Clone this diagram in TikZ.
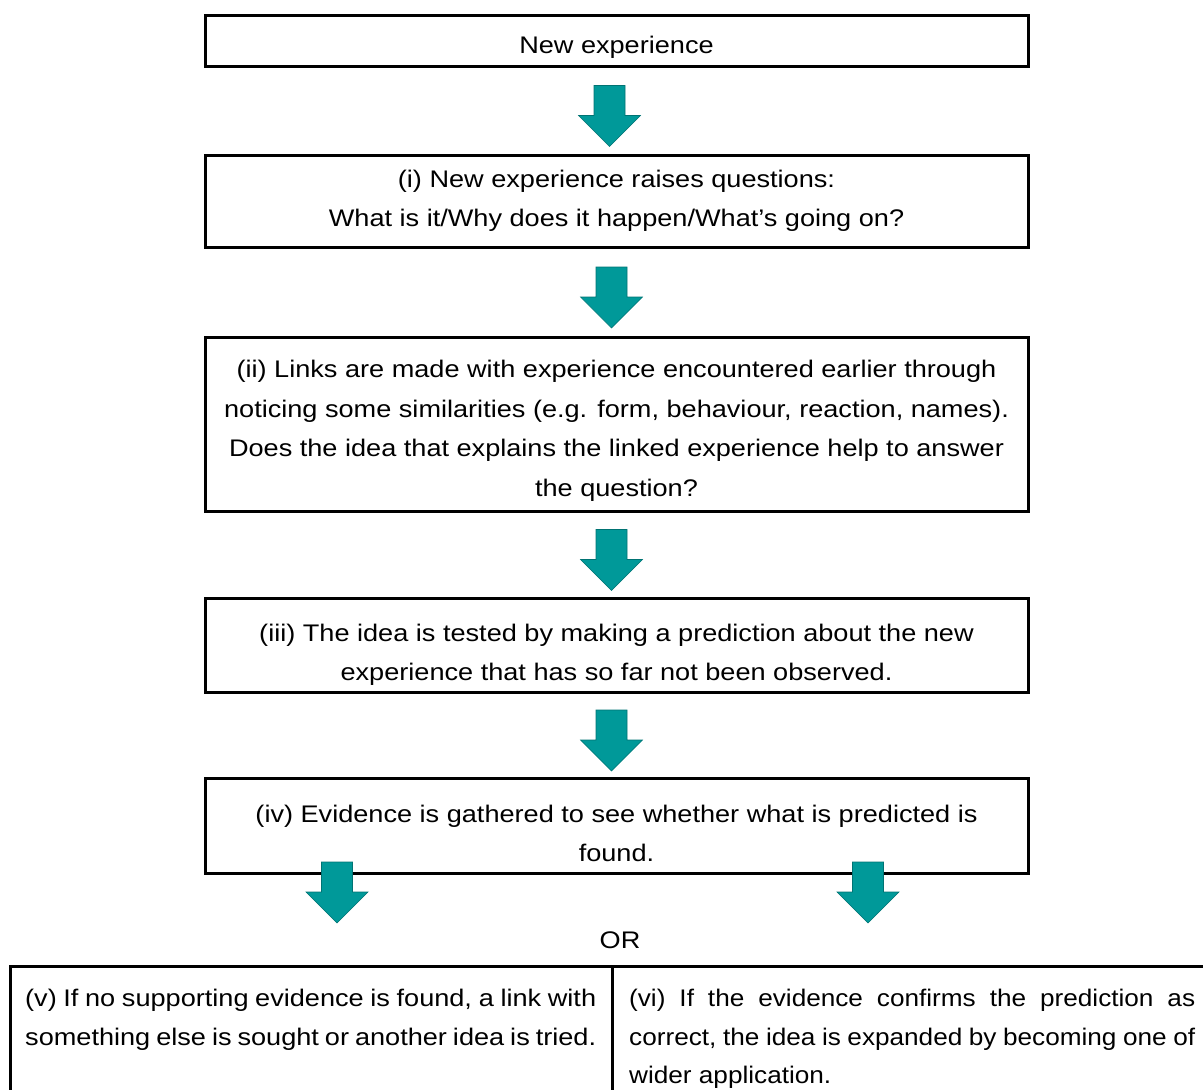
\documentclass[tikz,border=0pt]{standalone}
\usepackage{fontspec}
\setmainfont{Liberation Sans}[FakeStretch=1.13]
\newfontfamily\narrowfont{Liberation Sans}[FakeStretch=1.09]
\usetikzlibrary{positioning,calc}
\definecolor{arrowteal}{RGB}{0,153,153}
\newcommand\lowerby[1]{\rule{0pt}{#1pt}}
\tikzset{
  stagebox/.style={draw,line width=3pt,minimum width=823pt,align=center,
    inner sep=0pt,font=\fontsize{24}{39.5}\selectfont},
  celltext/.style={anchor=north west,align=justify,inner xsep=15pt,inner ysep=23pt,
    font=\fontsize{24}{38.5}\selectfont},
  downarrow/.pic={
    \filldraw[fill=arrowteal,draw=arrowteal!75!black,line width=0.6pt]
      (-15.5,-30) -- (15.5,-30) -- (15.5,0) -- (31,0) -- (0,31) -- (-31,0) -- (-15.5,0) -- cycle;
  }
}
\begin{document}
\begin{tikzpicture}[x=1pt,y=-1pt]
  \useasboundingbox (0,0) rectangle (1203,1090);
  % the five stages
  \node[stagebox,minimum height=51pt] (newexp) at (616.5,40.5) {\lowerby{31}New experience};
  \node[stagebox,minimum height=92pt] (questions) at (616.5,201)
    {(i) New experience raises questions:\\What is it/Why does it happen/What’s going on?};
  \node[stagebox,minimum height=174pt] (links) at (616.5,424)
    {\lowerby{31}(ii) Links are made with experience encountered earlier through\\
     noticing some similarities (e.g. form, behaviour, reaction, names).\\
     Does the idea that explains the linked experience help to answer\\
     the question?};
  \node[stagebox,minimum height=94pt] (tested) at (616.5,645)
    {\lowerby{37}(iii) The idea is tested by making a prediction about the new\\
     experience that has so far not been observed.};
  \node[stagebox,minimum height=95pt] (evidence) at (616.5,825.5)
    {\lowerby{33}(iv) Evidence is gathered to see whether what is predicted is\\found.};
  % arrows between stages
  \pic at ($(newexp.south)!0.5!(questions.north)+(-7,5)$) {downarrow};
  \pic at ($(questions.south)!0.5!(links.north)+(-5,5)$) {downarrow};
  \pic at ($(links.south)!0.5!(tested.north)+(-5,5)$) {downarrow};
  \pic at ($(tested.south)!0.5!(evidence.north)+(-5,5)$) {downarrow};
  \pic at (337,892) {downarrow};
  \pic at (868,892) {downarrow};
  \node[font=\fontsize{24}{28}\selectfont] (ortext) at (620,940) {OR};
  % the two outcomes
  \draw[line width=3pt] (10,1120) |- (1215,966);
  \draw[line width=3pt] (612,966) -- (612,1120);
  \node[celltext,text width=571pt] (nosupport) at (10,966)
    {\hyphenpenalty=10000 (v) If no supporting evidence is found, a link with\linebreak
     something else is sought or another idea is tried.};
  \node[celltext,text width=566pt,inner xsep=17pt] (confirmed) at (612,966)
    {\narrowfont\hyphenpenalty=10000
     (vi) If the evidence confirms the prediction as\linebreak
     correct, the idea is expanded by becoming one of\linebreak
     wider application.};
\end{tikzpicture}
\end{document}
